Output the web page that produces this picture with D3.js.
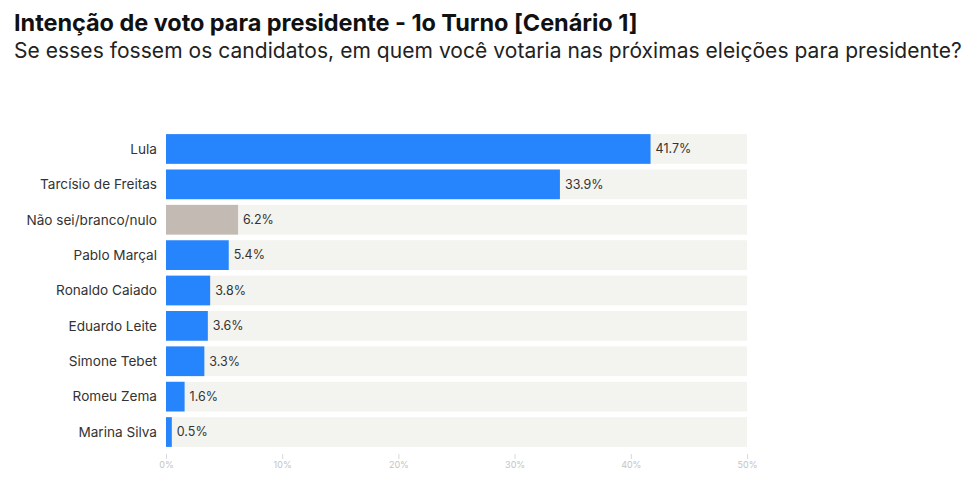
<!DOCTYPE html>
<html>
<head>
<meta charset="utf-8">
<script src="https://cdn.jsdelivr.net/npm/d3@7"></script>
<style>
  body { margin: 0; background: #fff; }
  svg { display: block; }
</style>
</head>
<body>
<svg id="chart" width="980" height="486"></svg>
<script>
// candidates and their vote share (%)
var candidates = ["Lula", "Tarcísio de Freitas", "Não sei/branco/nulo", "Pablo Marçal",
  "Ronaldo Caiado", "Eduardo Leite", "Simone Tebet", "Romeu Zema", "Marina Silva"];
var votes = [41.7, 33.9, 6.2, 5.4, 3.8, 3.6, 3.3, 1.6, 0.5];
var tickValues = [0, 10, 20, 30, 40, 50];

var svg = d3.select("#chart");

// title and subtitle
svg.append("text")
  .attr("x", 14).attr("y", 31)
  .attr("font-family", "Inter, sans-serif")
  .attr("font-weight", 700)
  .attr("font-size", 23.5)
  .attr("letter-spacing", -0.05)
  .attr("fill", "#111")
  .text("Intenção de voto para presidente - 1o Turno [Cenário 1]");

svg.append("text")
  .attr("x", 14).attr("y", 58)
  .attr("font-family", "Inter, sans-serif")
  .attr("font-size", 21)
  .attr("letter-spacing", 0.05)
  .attr("fill", "#222")
  .text("Se esses fossem os candidatos, em quem você votaria nas próximas eleições para presidente?");

var x = d3.scaleLinear().domain([0, 50]).range([166, 747]);
var y = d3.scaleBand().domain(candidates).range([132, 449]).paddingInner(0.16).paddingOuter(0.06);

// background tracks
svg.selectAll(".track")
  .data(candidates)
  .join("rect")
  .attr("class", "track")
  .attr("x", x(0))
  .attr("y", d => y(d))
  .attr("width", x(50) - x(0))
  .attr("height", y.bandwidth())
  .attr("fill", "#f3f3f0");

// bars
svg.selectAll(".bar")
  .data(candidates)
  .join("rect")
  .attr("class", "bar")
  .attr("x", x(0))
  .attr("y", d => y(d))
  .attr("width", (d, i) => x(votes[i]) - x(0))
  .attr("height", y.bandwidth())
  .attr("fill", d => d == "Não sei/branco/nulo" ? "#c4bab4" : "#2684fc");

// value labels
svg.selectAll(".val")
  .data(candidates)
  .join("text")
  .attr("class", "val")
  .attr("x", (d, i) => x(votes[i]) + 5)
  .attr("y", d => y(d) + y.bandwidth() / 2)
  .attr("dy", "0.35em")
  .attr("font-family", "Inter, sans-serif")
  .attr("font-size", 12.5)
  .attr("fill", "#333")
  .text((d, i) => votes[i].toFixed(1) + "%");

// category labels
svg.selectAll(".cat")
  .data(candidates)
  .join("text")
  .attr("class", "cat")
  .attr("x", 157)
  .attr("y", d => y(d) + y.bandwidth() / 2)
  .attr("dy", "0.35em")
  .attr("text-anchor", "end")
  .attr("font-family", "Inter, sans-serif")
  .attr("font-size", 13.6)
  .attr("fill", "#333")
  .text(d => d);

// x axis
var xAxis = d3.axisBottom(x)
  .tickValues(tickValues)
  .tickFormat(d => d + "%")
  .tickSize(5)
  .tickPadding(3);

var axis = svg.append("g")
  .attr("transform", "translate(0,454)")
  .call(xAxis);
axis.select(".domain").remove();
axis.selectAll(".tick line").attr("stroke", "#d8d8d8");
axis.selectAll(".tick text")
  .attr("fill", "#c4c4c4")
  .attr("font-family", "Inter, sans-serif")
  .attr("font-size", 9);
</script>
</body>
</html>
